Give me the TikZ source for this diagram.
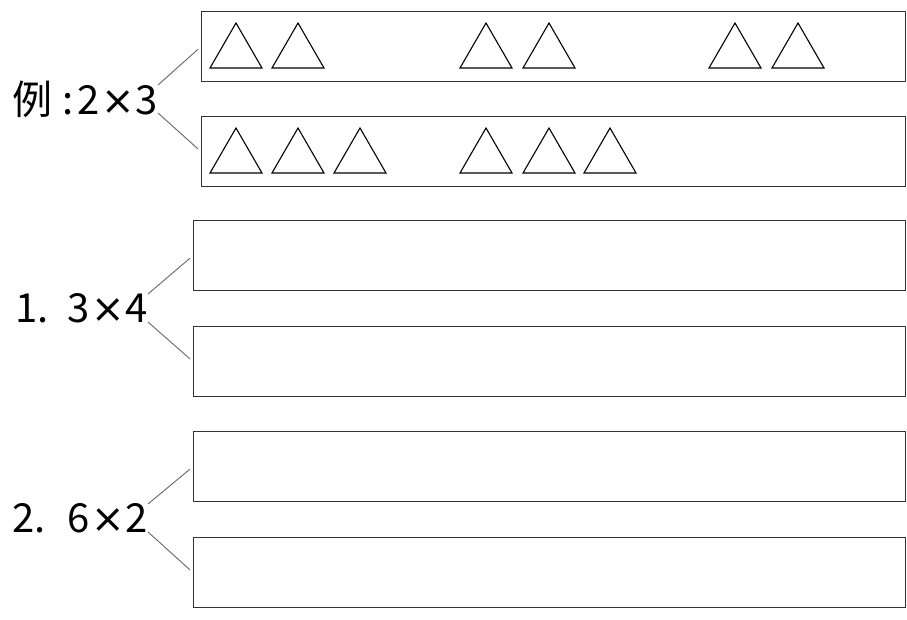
\documentclass[tikz,border=0pt]{standalone}
\usepackage{fontspec}
\setmainfont{Noto Sans CJK SC}
\newfontfamily\timesfont{DejaVu Sans}
\newcommand{\tms}{\hspace{1pt}{\timesfont ×}\hspace{1pt}}
\tikzset{
  answer/.style={draw=black!80, line width=1.2pt, minimum width=712pt, minimum height=70pt, inner sep=0pt, anchor=north west},
  sum/.style={font=\fontsize{40}{40}\selectfont, inner sep=0pt, anchor=east},
  branch/.style={draw=black!60, line width=0.9pt, shorten >=4pt},
  tri/.style={draw=black, line width=1.1pt, line join=miter}
}
\begin{document}
\begin{tikzpicture}[x=1pt,y=-1pt]
      \useasboundingbox (0,0) rectangle (907,619);

      % Example: 2 x 3
      \node[sum] (ex) at (158,99) {例\hspace{10pt}:\hspace{4pt}2\tms 3};
      \node[answer, minimum width=704pt] (exTop) at (201,11) {};
      \node[answer, minimum width=704pt] (exBot) at (201,116) {};
      \draw[branch] ([yshift=14pt]ex.east) -- (exTop.west);
      \draw[branch] ([yshift=-14pt]ex.east) -- (exBot.west);

      % Triangles, top box
      \draw[tri] (210,68) -- (236,23) -- (262,68) -- cycle;
      \draw[tri] (272,68) -- (298,23) -- (324,68) -- cycle;
      \draw[tri] (460,68) -- (486,23) -- (512,68) -- cycle;
      \draw[tri] (523,68) -- (549,23) -- (575,68) -- cycle;
      \draw[tri] (709,68) -- (735,23) -- (761,68) -- cycle;
      \draw[tri] (772,68) -- (798,23) -- (824,68) -- cycle;

      % Triangles, bottom box
      \draw[tri] (210,173) -- (236,128) -- (262,173) -- cycle;
      \draw[tri] (272,173) -- (298,128) -- (324,173) -- cycle;
      \draw[tri] (334,173) -- (360,128) -- (386,173) -- cycle;
      \draw[tri] (460,173) -- (486,128) -- (512,173) -- cycle;
      \draw[tri] (523,173) -- (549,128) -- (575,173) -- cycle;
      \draw[tri] (584,173) -- (610,128) -- (636,173) -- cycle;

      % 1. 3 x 4
      \node[sum] (q1) at (148,308) {1.\hspace{19pt}3\tms 4};
      \node[answer] (q1Top) at (193,220) {};
      \node[answer] (q1Bot) at (193,326) {};
      \draw[branch] ([yshift=14pt]q1.east) -- (q1Top.west);
      \draw[branch] ([yshift=-14pt]q1.east) -- (q1Bot.west);

      % 2. 6 x 2
      \node[sum] (q2) at (148,518) {2.\hspace{22pt}6\tms 2};
      \node[answer] (q2Top) at (193,431) {};
      \node[answer] (q2Bot) at (193,537) {};
      \draw[branch] ([yshift=14pt]q2.east) -- (q2Top.west);
      \draw[branch] ([yshift=-14pt]q2.east) -- (q2Bot.west);
\end{tikzpicture}
\end{document}
